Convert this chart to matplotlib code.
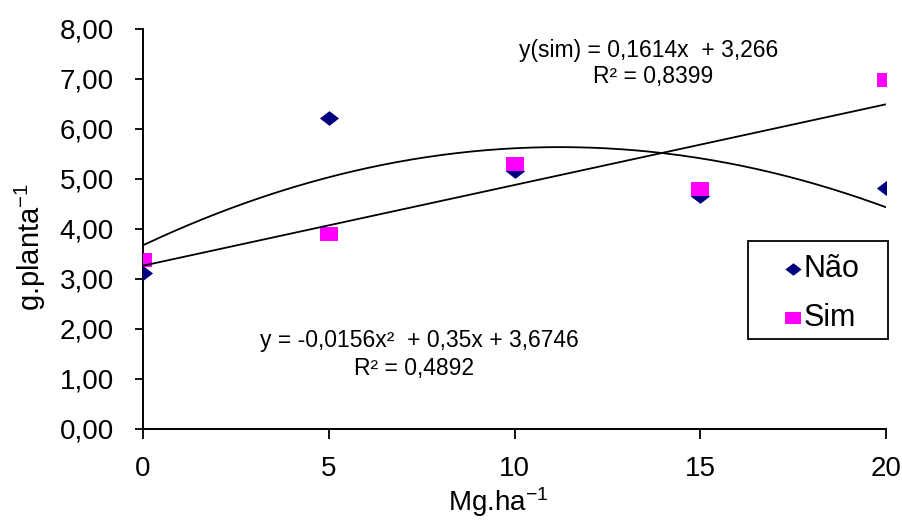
import matplotlib
matplotlib.use("Agg")
import matplotlib.pyplot as plt
from matplotlib.path import Path
from matplotlib.patches import Rectangle
import numpy as np

plt.rcParams['font.family'] = ['Liberation Sans', 'DejaVu Sans']
plt.rcParams['mathtext.fontset'] = 'custom'
plt.rcParams['mathtext.rm'] = 'Liberation Sans'
plt.rcParams['mathtext.it'] = 'Liberation Sans:italic'

doses = [0, 5, 10, 15, 20]
nao = [3.12, 6.22, 5.17, 4.67, 4.82]
sim = [3.39, 3.91, 5.30, 4.80, 6.98]
quad_coef = [-0.0156, 0.35, 3.6746]   # Não trend
lin_coef = [0.1614, 3.266]            # Sim trend
yticks = [0, 1, 2, 3, 4, 5, 6, 7, 8]
xticks = [0, 5, 10, 15, 20]

# slightly wide markers, as in the reference
rect_marker = Path([(-1.38, -1), (1.38, -1), (1.38, 1), (-1.38, 1), (-1.38, -1)],
                   [Path.MOVETO, Path.LINETO, Path.LINETO, Path.LINETO, Path.CLOSEPOLY])
diam_marker = Path([(-1.3, 0), (0, 1), (1.3, 0), (0, -1), (-1.3, 0)],
                   [Path.MOVETO, Path.LINETO, Path.LINETO, Path.LINETO, Path.CLOSEPOLY])

fig = plt.figure(figsize=(9.03, 5.23), dpi=100)
ax = fig.add_axes([143/903, 1-429/523, (886-143)/903, 400/523])

ax.scatter(doses, nao, marker=diam_marker, s=190, color='#00007F', zorder=3, label='Não', linewidths=0)
ax.scatter(doses, sim, marker=rect_marker, s=185, color='#FF00FF', zorder=3, label='Sim', linewidths=0)

xs = np.linspace(0, 20, 200)
ax.plot(xs, np.polyval(quad_coef, xs), color='black', lw=1.3, zorder=4)
ax.plot(xs, np.polyval(lin_coef, xs), color='black', lw=1.3, zorder=4)

ax.set_xlim(0, 20)
ax.set_ylim(0, 8)
ax.set_xticks(xticks)
ax.set_xticklabels([str(v) for v in xticks])
ax.set_yticks(yticks)
ax.set_yticklabels([f"{v:.2f}".replace('.', ',') for v in yticks])
ax.spines['top'].set_visible(False)
ax.spines['right'].set_visible(False)
for s in ['left', 'bottom']:
    ax.spines[s].set_linewidth(1.4)
ax.tick_params(axis='y', direction='out', length=6, width=1.3, labelsize=20, pad=15)
ax.tick_params(axis='x', direction='out', length=7.5, width=1.3, labelsize=20, pad=12)
for sp in ax.spines.values():
    sp.set_clip_on(False)

ax.set_ylabel(r'g.planta$^{-1}$', fontsize=21)
ax.set_xlabel(r'Mg.ha$^{-1}$', fontsize=20)
ax.yaxis.set_label_coords(-0.128, 0.455)
ax.xaxis.set_label_coords(0.478, -0.14)

ax.text(649/903, 1-50/523, 'y(sim) = 0,1614x  + 3,266', transform=fig.transFigure,
        ha='center', va='center', fontsize=16.5)
ax.text(653/903, 1-77/523, 'R² = 0,8399', transform=fig.transFigure,
        ha='center', va='center', fontsize=16.5)
ax.text(419/903, 1-341/523, 'y = -0,0156x²  + 0,35x + 3,6746', transform=fig.transFigure,
        ha='center', va='center', fontsize=16.5)
ax.text(414/903, 1-368/523, 'R² = 0,4892', transform=fig.transFigure,
        ha='center', va='center', fontsize=16.5)

# legend frame drawn separately so its width matches the reference
frame = Rectangle((748/903, 1-339/523), 140/903, 98/523, transform=fig.transFigure,
                  facecolor='white', edgecolor='black', linewidth=1.3, zorder=5, clip_on=False)
ax.add_patch(frame)
leg = ax.legend(loc='upper left', bbox_to_anchor=(782/903, 1-254/523), bbox_transform=fig.transFigure,
                borderaxespad=0, borderpad=0, fontsize=22, frameon=False,
                handletextpad=0.0, handlelength=0.7, labelspacing=0.62,
                markerscale=0.85)
leg.set_zorder(6)

fig.savefig('out.png', dpi=100)
